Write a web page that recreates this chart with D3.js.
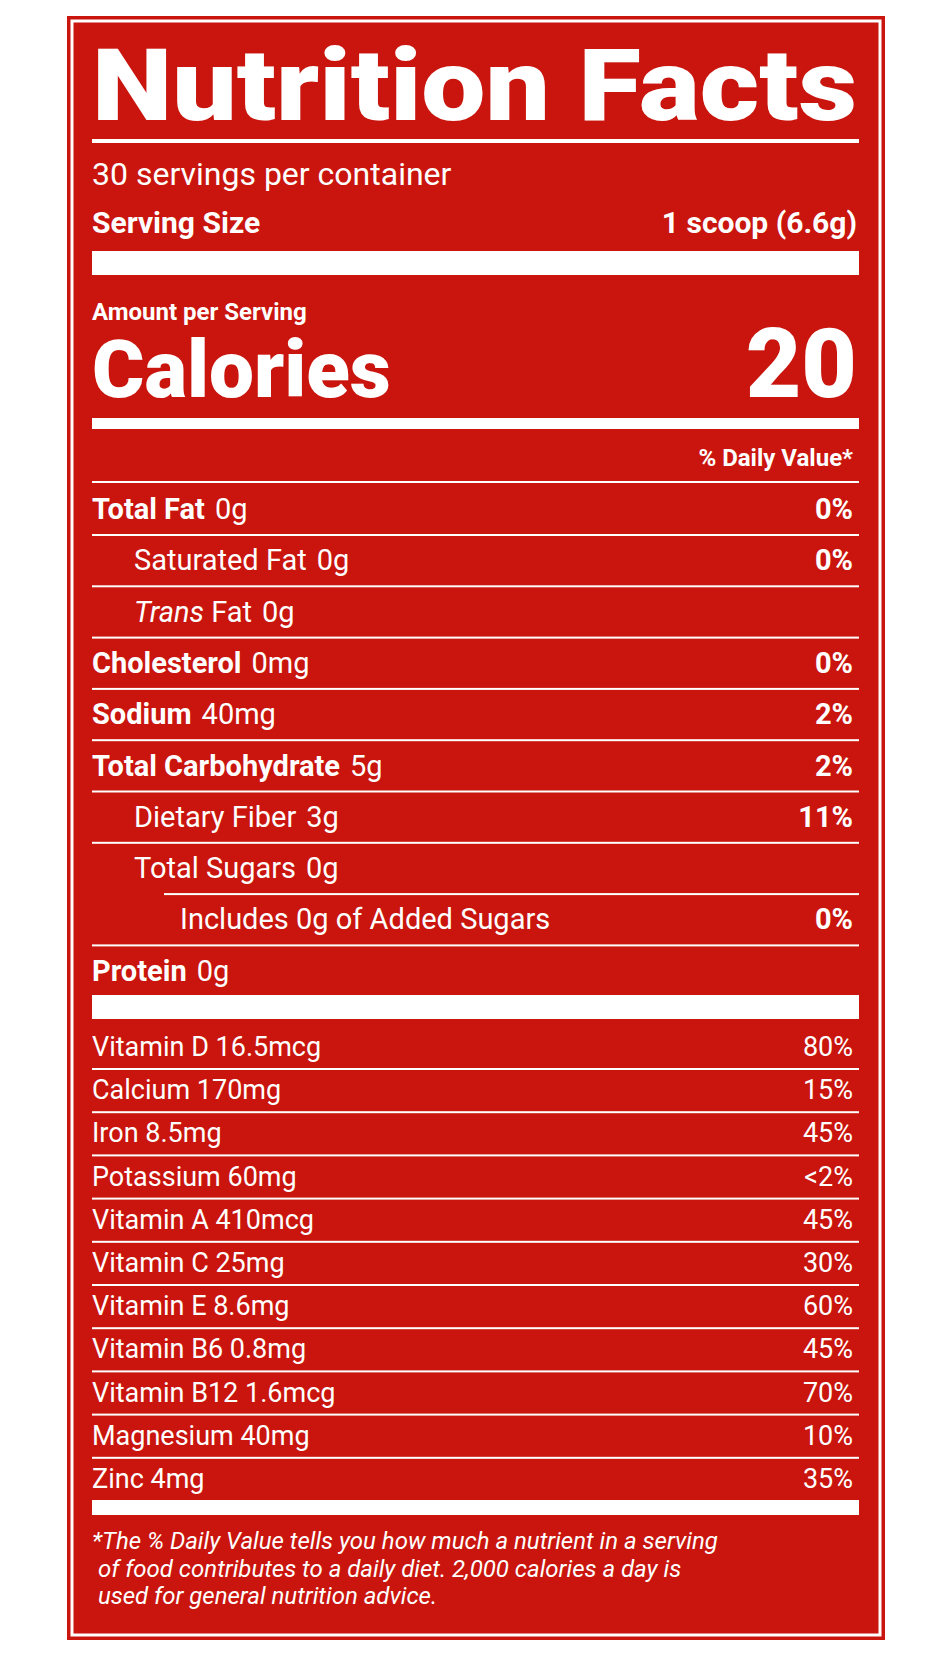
<!DOCTYPE html>
<html><head><meta charset="utf-8">
<script src="https://cdn.jsdelivr.net/npm/d3@7"></script>
<style>body{margin:0;background:#fff}</style>
</head><body>
<script>
// label data
const servings = "30 servings per container";
const servingSize = "1 scoop (6.6g)";
const calories = "20";
const nutrients = ["Total Fat", "Saturated Fat", "Trans Fat", "Cholesterol", "Sodium", "Total Carbohydrate", "Dietary Fiber", "Total Sugars", "Includes 0g of Added Sugars", "Protein"];
const amounts = ["0g", "0g", "0g", "0mg", "40mg", "5g", "3g", "0g", "", "0g"];
const dailyValues = ["0%", "0%", "", "0%", "2%", "2%", "11%", "", "0%", ""];
const levels = [0, 1, 1, 0, 0, 0, 1, 1, 2, 0];
const vitamins = ["Vitamin D", "Calcium", "Iron", "Potassium", "Vitamin A", "Vitamin C", "Vitamin E", "Vitamin B6", "Vitamin B12", "Magnesium", "Zinc"];
const vitaminAmounts = ["16.5mcg", "170mg", "8.5mg", "60mg", "410mcg", "25mg", "8.6mg", "0.8mg", "1.6mcg", "40mg", "4mg"];
const vitaminDV = ["80%", "15%", "45%", "<2%", "45%", "30%", "60%", "45%", "70%", "10%", "35%"];
const footnote = ["*The % Daily Value tells you how much a nutrient in a serving", " of food contributes to a daily diet. 2,000 calories a day is", " used for general nutrition advice."];

const W = 948, H = 1660, L = 92, R = 859;
const red = "#c9150d";
const font = "Roboto, 'Liberation Sans', sans-serif";

const svg = d3.select("body").append("svg").attr("width", W).attr("height", H);
svg.append("rect").attr("x", 67).attr("y", 16).attr("width", 818).attr("height", 1624).attr("fill", red);
svg.append("rect").attr("x", 72).attr("y", 21).attr("width", 808).attr("height", 1614)
  .attr("fill", "none").attr("stroke", "#fff").attr("stroke-width", 3);

const txt = (x, y, s, size, weight, anchor) => svg.append("text")
  .attr("x", x).attr("y", y).attr("font-family", font).attr("font-size", size)
  .attr("font-weight", weight || 400).attr("fill", "#fff")
  .attr("text-anchor", anchor || "start").text(s);
const bar = (y, h, x0) => svg.append("rect").attr("x", x0 || L).attr("y", y)
  .attr("width", R - (x0 || L)).attr("height", h).attr("fill", "#fff");

txt(L, 120, "Nutrition Facts", 100, 900).attr("textLength", R - L - 2).attr("lengthAdjust", "spacingAndGlyphs");
bar(139, 4);
txt(L, 185, servings, 32, 400);
txt(L, 233, "Serving Size", 30, 700);
txt(R - 2, 233, servingSize, 30, 700, "end");
bar(251, 24);
txt(L, 320, "Amount per Serving", 24, 700);
txt(L, 397, "Calories", 80, 900);
txt(R - 2, 397, calories, 96, 900, "end");
bar(418, 11);
txt(R - 6, 466, "% Daily Value*", 24, 700, "end");
bar(481, 2);

// main nutrient rows
const indent = d3.scaleOrdinal().domain([0, 1, 2]).range([L, 134, 180]);
const yRow = d3.scaleLinear().domain([0, nutrients.length - 1]).range([519, 519 + 9 * 51.3]);
nutrients.forEach((n, i) => {
  const t = svg.append("text").attr("x", indent(levels[i])).attr("y", yRow(i))
    .attr("font-family", font).attr("font-size", 29).attr("fill", "#fff");
  if (n === "Trans Fat") {
    t.append("tspan").attr("font-style", "italic").text("Trans");
    t.append("tspan").text(" Fat");
  } else {
    t.append("tspan").attr("font-weight", levels[i] === 0 ? 700 : 400).text(n);
  }
  if (amounts[i]) t.append("tspan").attr("dx", 10).text(amounts[i]);
  if (dailyValues[i]) txt(R - 6, yRow(i), dailyValues[i], 29, 700, "end");
  if (i < nutrients.length - 1) bar(yRow(i) + 15, 2, i === 7 ? 164 : L);
});
bar(995, 24);

// vitamins & minerals
const yVit = d3.scaleLinear().domain([0, vitamins.length - 1]).range([1056, 1488]);
vitamins.forEach((v, i) => {
  txt(L, yVit(i), v + " " + vitaminAmounts[i], 27, 400);
  txt(R - 6, yVit(i), vitaminDV[i], 27, 400, "end");
  if (i < vitamins.length - 1) bar(yVit(i) + 12, 2);
});
bar(1500, 15);

const yFoot = d3.scaleLinear().domain([0, footnote.length - 1]).range([1549, 1604]);
footnote.forEach((f, i) => txt(L, yFoot(i), f, 24, 400).attr("font-style", "italic").attr("xml:space", "preserve").style("white-space", "pre"));
</script>
</body></html>
